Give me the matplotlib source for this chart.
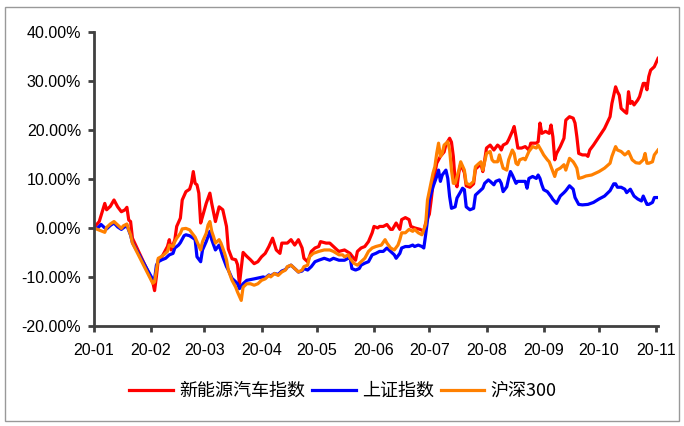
import matplotlib
matplotlib.use("Agg")
import matplotlib.pyplot as plt
import matplotlib.dates as mdates
from matplotlib.patches import Rectangle
import pandas as pd

# values (cumulative return, %), dates are 2020 month-day
red_dates = ["01-01", "01-04", "01-07", "01-08", "01-10", "01-12", "01-14", "01-16", "01-18", "01-19",
             "01-20", "01-21", "01-22", "02-02", "02-03", "02-04", "02-05", "02-07", "02-09", "02-10",
             "02-11", "02-12", "02-14", "02-15", "02-17", "02-18", "02-20", "02-22", "02-23", "02-24",
             "02-25", "02-26", "02-27", "02-28", "02-29", "03-02", "03-04", "03-05", "03-07", "03-09",
             "03-11", "03-13", "03-14", "03-16", "03-18", "03-19", "03-20", "03-22", "03-24", "03-26",
             "03-28", "03-30", "04-01", "04-03", "04-05", "04-07", "04-09", "04-11", "04-12", "04-15",
             "04-17", "04-19", "04-21", "04-23", "04-24", "04-26", "04-28", "04-30", "05-02", "05-03",
             "05-06", "05-08", "05-10", "05-12", "05-13", "05-16", "05-19", "05-21", "05-22", "05-23",
             "05-25", "05-27", "05-29", "05-31", "06-01", "06-03", "06-04", "06-06", "06-08", "06-10",
             "06-11", "06-13", "06-15", "06-16", "06-18", "06-20", "06-21", "06-23", "06-26", "06-28",
             "06-29", "07-01", "07-02", "07-03", "07-05", "07-07", "07-09", "07-10", "07-12", "07-13",
             "07-14", "07-15", "07-16", "07-17", "07-18", "07-20", "07-21", "07-23", "07-25", "07-26",
             "07-28", "07-29", "07-30", "07-31", "08-01", "08-03", "08-05", "08-07", "08-08", "08-09",
             "08-10", "08-12", "08-13", "08-15", "08-16", "08-17", "08-18", "08-20", "08-22", "08-24",
             "08-25", "08-28", "08-29", "08-30", "08-31", "09-02", "09-04", "09-05", "09-06", "09-07",
             "09-08", "09-10", "09-12", "09-13", "09-15", "09-17", "09-18", "09-19", "09-20", "09-22",
             "09-24", "09-25", "09-26", "09-28", "10-01", "10-04", "10-07", "10-08", "10-10", "10-11",
             "10-12", "10-13", "10-15", "10-16", "10-17", "10-18", "10-19", "10-20", "10-22", "10-23",
             "10-25", "10-26", "10-27", "10-28", "10-29", "10-31", "11-02"]
red_vals = [0.0, 1.3, 5.0, 3.7, 4.4, 5.7, 4.3, 3.3, 3.7, 4.2,
            1.6, 1.3, -2.1, -11.0, -12.8, -9.9, -6.5, -5.9, -4.5, -3.8,
            -2.4, -4.5, -2.4, 0.3, 2.0, 5.7, 7.4, 7.9, 9.1, 11.5,
            9.1, 8.8, 7.1, 1.0, 2.3, 5.0, 7.1, 5.0, 1.3, 4.3,
            3.7, 0.3, -4.3, -6.3, -6.5, -7.5, -11.5, -5.0, -5.8, -6.5,
            -7.3, -6.9, -5.9, -5.2, -3.8, -2.1, -4.5, -5.2, -3.1, -3.1,
            -2.4, -3.5, -2.4, -4.1, -6.2, -6.9, -4.8, -4.1, -3.8, -2.8,
            -3.1, -3.1, -3.8, -4.5, -4.8, -4.5, -5.2, -6.2, -6.6, -4.8,
            -4.1, -3.8, -2.8, -1.0, 0.3, 0.0, 0.3, 0.3, 0.7, -0.3,
            -0.3, 1.0, -0.3, 1.7, 2.1, 1.7, 0.3, 0.0, -0.3, -0.7,
            1.0, 2.8, 5.7, 9.0, 13.2, 14.6, 15.5, 17.0, 18.3, 17.5,
            14.6, 9.5, 8.4, 11.3, 13.0, 11.3, 8.6, 8.3, 9.0, 12.0,
            12.7, 13.0, 11.5, 13.8, 16.3, 16.9, 15.9, 16.9, 16.6, 15.9,
            16.9, 17.3, 18.0, 19.7, 20.7, 18.6, 16.3, 16.3, 16.6, 15.9,
            17.3, 17.3, 17.6, 21.4, 19.3, 19.7, 19.3, 21.0, 18.6, 13.9,
            15.2, 16.6, 18.3, 22.0, 22.7, 22.4, 21.4, 18.6, 15.2, 14.9,
            14.9, 14.6, 15.9, 16.9, 18.6, 20.3, 22.7, 25.4, 28.8, 27.8,
            27.1, 24.4, 23.7, 23.4, 27.8, 25.4, 25.8, 25.1, 26.1, 26.8,
            29.5, 29.5, 28.2, 30.9, 32.2, 32.9, 34.6]

blue_dates = ["01-01", "01-03", "01-05", "01-07", "01-08", "01-10", "01-12", "01-14", "01-16", "01-17",
              "01-19", "01-20", "01-21", "01-22", "02-02", "02-03", "02-04", "02-05", "02-07", "02-09",
              "02-11", "02-13", "02-14", "02-16", "02-17", "02-19", "02-20", "02-22", "02-24", "02-25",
              "02-26", "02-28", "02-29", "03-02", "03-04", "03-05", "03-07", "03-09", "03-11", "03-13",
              "03-14", "03-16", "03-18", "03-19", "03-20", "03-22", "03-24", "03-28", "04-02", "04-03",
              "04-05", "04-06", "04-08", "04-10", "04-12", "04-14", "04-15", "04-17", "04-19", "04-21",
              "04-23", "04-24", "04-26", "04-28", "04-30", "05-02", "05-05", "05-08", "05-10", "05-13",
              "05-16", "05-18", "05-19", "05-20", "05-22", "05-24", "05-25", "05-27", "05-29", "05-31",
              "06-02", "06-04", "06-06", "06-08", "06-10", "06-12", "06-13", "06-15", "06-16", "06-18",
              "06-20", "06-22", "06-23", "06-25", "06-27", "06-28", "06-29", "06-30", "07-01", "07-03",
              "07-05", "07-06", "07-07", "07-08", "07-10", "07-11", "07-12", "07-13", "07-15", "07-16",
              "07-18", "07-19", "07-20", "07-21", "07-23", "07-25", "07-26", "07-28", "07-30", "07-31",
              "08-02", "08-03", "08-05", "08-06", "08-08", "08-09", "08-10", "08-12", "08-13", "08-14",
              "08-15", "08-17", "08-18", "08-20", "08-22", "08-23", "08-24", "08-26", "08-28", "08-29",
              "08-30", "08-31", "09-01", "09-03", "09-05", "09-06", "09-08", "09-10", "09-12", "09-13",
              "09-15", "09-17", "09-18", "09-20", "09-22", "09-25", "09-28", "10-01", "10-04", "10-07",
              "10-09", "10-10", "10-11", "10-13", "10-15", "10-16", "10-18", "10-20", "10-22", "10-24",
              "10-25", "10-27", "10-28", "10-30", "10-31", "11-02"]
blue_vals = [0.0, -0.1, 0.7, 0.0, -0.2, 0.5, 1.0, 0.2, -0.3, 0.0,
             0.5, -0.5, -1.5, -3.0, -10.5, -10.5, -7.6, -6.9, -6.5, -6.2,
             -5.5, -5.2, -4.1, -3.5, -3.0, -1.6, -1.4, -1.6, -2.1, -2.4,
             -5.9, -6.9, -4.5, -2.8, -0.7, -2.4, -4.5, -3.5, -5.9, -7.9,
             -8.6, -10.3, -11.0, -11.4, -12.4, -11.4, -10.7, -10.4, -10.0, -10.2,
             -9.6, -9.8, -9.3, -9.5, -8.8, -8.5, -8.0, -7.6, -8.3, -9.0,
             -8.8, -8.3, -8.6, -7.9, -6.9, -6.6, -6.2, -6.6, -6.2, -6.6,
             -6.6, -6.2, -5.9, -8.3, -8.6, -8.3, -7.6, -7.2, -6.9, -5.5,
             -5.2, -4.8, -4.8, -4.1, -4.8, -5.5, -6.2, -5.2, -4.1, -3.8,
             -3.8, -3.5, -3.8, -3.5, -3.8, -4.1, -1.4, 1.6, 5.7, 8.4,
             10.5, 11.8, 9.5, 10.8, 11.8, 10.1, 6.4, 4.0, 4.3, 6.1,
             7.4, 8.1, 7.8, 4.3, 3.7, 4.0, 6.7, 7.4, 8.1, 9.1,
             9.8, 9.5, 8.8, 9.5, 9.8, 9.1, 7.4, 8.4, 10.1, 11.5,
             10.8, 9.1, 9.5, 9.5, 9.5, 8.1, 10.1, 10.5, 10.1, 10.8,
             10.1, 8.8, 7.8, 7.4, 6.4, 5.8, 5.0, 6.5, 7.2, 7.6,
             8.6, 7.9, 6.2, 4.8, 4.7, 4.8, 5.2, 5.9, 6.5, 7.6,
             9.0, 9.0, 8.3, 8.3, 7.9, 7.2, 7.9, 6.5, 5.9, 5.5,
             6.5, 4.8, 4.8, 5.2, 6.2, 6.2]

orange_dates = ["01-01", "01-03", "01-05", "01-07", "01-08", "01-10", "01-12", "01-14", "01-16", "01-17",
                "01-19", "01-20", "01-21", "01-22", "02-02", "02-03", "02-04", "02-05", "02-06", "02-08",
                "02-10", "02-11", "02-13", "02-14", "02-15", "02-17", "02-18", "02-20", "02-22", "02-24",
                "02-25", "02-26", "02-28", "02-29", "03-02", "03-03", "03-04", "03-05", "03-06", "03-07",
                "03-09", "03-10", "03-12", "03-13", "03-14", "03-16", "03-18", "03-19", "03-21", "03-22",
                "03-24", "03-26", "03-28", "03-30", "04-01", "04-03", "04-05", "04-06", "04-08", "04-10",
                "04-12", "04-14", "04-15", "04-17", "04-19", "04-21", "04-23", "04-24", "04-26", "04-27",
                "04-29", "05-02", "05-05", "05-08", "05-10", "05-13", "05-15", "05-16", "05-18", "05-19",
                "05-21", "05-23", "05-25", "05-27", "05-29", "05-31", "06-02", "06-05", "06-07", "06-08",
                "06-10", "06-12", "06-14", "06-15", "06-16", "06-18", "06-20", "06-22", "06-23", "06-25",
                "06-27", "06-29", "06-30", "07-03", "07-04", "07-05", "07-06", "07-07", "07-08", "07-09",
                "07-11", "07-12", "07-13", "07-14", "07-15", "07-17", "07-18", "07-20", "07-21", "07-23",
                "07-25", "07-26", "07-28", "07-29", "07-30", "07-31", "08-01", "08-03", "08-04", "08-05",
                "08-07", "08-08", "08-09", "08-10", "08-12", "08-13", "08-15", "08-16", "08-17", "08-18",
                "08-19", "08-21", "08-22", "08-24", "08-26", "08-28", "08-29", "08-31", "09-01", "09-03",
                "09-04", "09-06", "09-07", "09-08", "09-10", "09-12", "09-13", "09-15", "09-17", "09-18",
                "09-19", "09-20", "09-22", "09-24", "09-27", "10-01", "10-04", "10-07", "10-08", "10-10",
                "10-11", "10-13", "10-15", "10-16", "10-17", "10-19", "10-21", "10-23", "10-25", "10-26",
                "10-27", "10-28", "10-30", "10-31", "11-02"]
orange_vals = [0.0, -0.3, -0.6, -0.9, 0.1, 0.8, 1.3, 0.6, -0.1, 0.4,
               0.8, -0.4, -1.4, -3.1, -11.3, -11.0, -8.6, -6.2, -6.0, -5.5,
               -4.8, -3.5, -3.8, -2.8, -2.1, -1.1, -0.2, -0.1, -0.4, -1.4,
               -1.9, -2.8, -4.5, -2.8, -1.1, 0.6, 1.3, -0.7, -1.8, -3.1,
               -2.4, -3.1, -5.2, -6.5, -8.6, -10.7, -12.1, -13.1, -14.8, -12.1,
               -11.4, -11.4, -11.7, -11.4, -10.7, -10.4, -9.7, -10.0, -9.3, -9.7,
               -9.0, -8.6, -7.9, -7.6, -8.3, -9.0, -8.6, -7.9, -7.6, -5.9,
               -5.2, -4.8, -4.5, -4.5, -4.8, -5.5, -5.5, -5.9, -5.5, -6.2,
               -7.2, -7.6, -6.9, -6.2, -4.8, -4.1, -3.8, -3.5, -2.4, -3.1,
               -4.1, -4.5, -3.5, -2.4, -1.0, -1.0, -0.3, -0.7, -0.3, -1.0,
               -1.4, 0.7, 5.7, 11.2, 12.5, 15.2, 17.3, 14.6, 15.2, 16.9,
               17.6, 15.9, 11.8, 9.1, 9.1, 11.8, 13.5, 11.8, 9.1, 8.8,
               9.5, 12.5, 13.2, 13.5, 11.8, 13.5, 15.2, 15.6, 13.9, 13.5,
               13.5, 14.9, 13.5, 12.2, 11.8, 13.9, 15.9, 15.2, 13.2, 12.9,
               13.9, 14.2, 13.9, 15.6, 16.6, 16.3, 16.9, 15.6, 14.9, 13.9,
               13.5, 11.5, 10.5, 11.8, 12.2, 12.9, 11.8, 14.2, 13.5, 12.9,
               12.2, 10.1, 10.3, 10.6, 10.8, 11.5, 12.2, 13.2, 14.6, 16.6,
               15.9, 15.6, 14.9, 15.2, 15.6, 13.9, 13.3, 13.2, 13.9, 15.2,
               13.2, 13.2, 13.5, 14.9, 15.9]

series_names = ["新能源汽车指数", "上证指数", "沪深300"]
month_ticks = ["01-01", "02-01", "03-01", "04-01", "05-01", "06-01",
               "07-01", "08-01", "09-01", "10-01", "11-01"]
y_ticks = [-20, -10, 0, 10, 20, 30, 40]


def to_dates(days):
    return pd.to_datetime(["2020-" + d for d in days])


plt.rcParams['font.family'] = ['Liberation Sans', 'Noto Sans CJK SC', 'DejaVu Sans']

fig = plt.figure(figsize=(6.84, 4.26), dpi=100)
ax = fig.add_axes([0.137, 0.235, 0.825, 0.69])

ax.plot(to_dates(red_dates), red_vals, color='#FF0000', lw=2.3, label=series_names[0])
ax.plot(to_dates(blue_dates), blue_vals, color='#0000FF', lw=2.3, label=series_names[1])
ax.plot(to_dates(orange_dates), orange_vals, color='#FF8000', lw=2.3, label=series_names[2])

ax.set_ylim(-20, 40)
ax.set_yticks(y_ticks)
ax.set_yticklabels(["%.2f%%" % v for v in y_ticks])
ax.set_xlim(pd.Timestamp("2020-01-01"), pd.Timestamp("2020-11-02"))
ax.set_xticks(to_dates(month_ticks))
ax.xaxis.set_major_formatter(mdates.DateFormatter("%y-%m"))

for side in ["top", "right"]:
    ax.spines[side].set_visible(False)
for side in ["left", "bottom"]:
    ax.spines[side].set_color('#404040')
    ax.spines[side].set_linewidth(2)
ax.tick_params(axis='y', direction='out', length=4, width=2, color='#404040',
               labelsize=11.5, pad=5, labelcolor='black')
ax.tick_params(axis='x', direction='out', length=4, width=2, color='#404040',
               labelsize=11.5, pad=8, labelcolor='black')

ax.legend(loc='center', bbox_to_anchor=(343 / 684, 1 - 391 / 426), bbox_transform=fig.transFigure,
          ncol=3, frameon=False, handlelength=2.4, handletextpad=0.35, columnspacing=0.4,
          prop={'family': ['Noto Sans CJK SC', 'DejaVu Sans'], 'size': 13})

fig.patches.append(Rectangle((5 / 684, 5 / 426), 674 / 684, 414 / 426, transform=fig.transFigure,
                             fill=False, ec='#999999', lw=1))

fig.savefig("out.png", dpi=100)
